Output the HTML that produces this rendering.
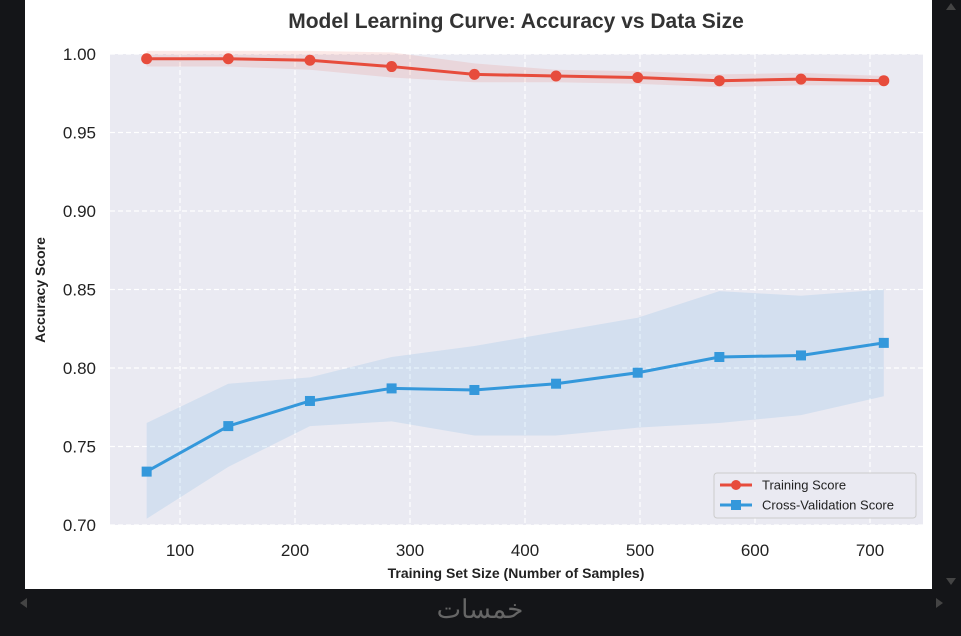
<!DOCTYPE html>
<html><head><meta charset="utf-8"><style>
body{margin:0;width:961px;height:636px;background:#141518;overflow:hidden;font-family:"Liberation Sans",sans-serif}
#card{position:absolute;left:25px;top:0;width:907px;height:589px;background:#fff}
svg{position:absolute;left:0;top:0}
</style></head><body>
<div id="card"></div>
<svg id="chart" width="961" height="636">
<text x="516" y="28" text-anchor="middle" font-size="21" font-weight="bold" fill="#333">Model Learning Curve: Accuracy vs Data Size</text>
<text transform="translate(45,290) rotate(-90)" text-anchor="middle" font-size="14" font-weight="bold" fill="#222">Accuracy Score</text>
<text x="516" y="578" text-anchor="middle" font-size="14" font-weight="bold" fill="#222">Training Set Size (Number of Samples)</text>
<text x="480" y="618" text-anchor="middle" font-size="26" fill="#666" font-family="'Liberation Sans','Noto Sans CJK SC',sans-serif">خمسات</text>
<polygon points="20,603 27,598 27,608" fill="#444"/>
<polygon points="936,598 936,608 943,603" fill="#444"/>
<polygon points="946,10 956,10 951,3" fill="#444"/>
<polygon points="946,578 956,578 951,585" fill="#444"/>
</svg>
<script>
const sizes=[71,142,213,284,356,427,498,569,640,712];
const trainMean=[0.997,0.997,0.996,0.992,0.987,0.986,0.985,0.983,0.984,0.983];
const trainUpper=[1.002,1.002,1.002,1.001,0.994,0.990,0.989,0.987,0.988,0.986];
const trainLower=[0.992,0.992,0.990,0.985,0.982,0.982,0.981,0.979,0.980,0.980];
const cvMean=[0.734,0.763,0.779,0.787,0.786,0.790,0.797,0.807,0.808,0.816];
const cvUpper=[0.765,0.790,0.794,0.807,0.814,0.823,0.832,0.849,0.846,0.850];
const cvLower=[0.704,0.737,0.763,0.766,0.757,0.757,0.762,0.765,0.770,0.782];
const xTicks=[100,200,300,400,500,600,700];
const yTicks=[0.70,0.75,0.80,0.85,0.90,0.95,1.00];
const L=110,R=923,T=54,B=525;
const xs=v=>180+(v-100)*(870-180)/600;
const ys=v=>B-(v-0.70)*(B-T)/0.30;
const svg=document.getElementById('chart');
const NS='http://www.w3.org/2000/svg';
function mk(t,a){const e=document.createElementNS(NS,t);for(const k in a)e.setAttribute(k,a[k]);svg.appendChild(e);return e;}
const bg=mk('rect',{x:L,y:T,width:R-L,height:B-T,fill:'#eaeaf2'});


xTicks.forEach(t=>{
 const g=mk('line',{x1:xs(t),x2:xs(t),y1:T,y2:B,stroke:'#fff','stroke-dasharray':'5,3','stroke-width':1.2});
 
 
 const l=mk('text',{x:xs(t),y:556,'text-anchor':'middle','font-size':17,fill:'#222'});l.textContent=t;
 
 
});
yTicks.forEach(t=>{
 const g=mk('line',{x1:L,x2:R,y1:ys(t),y2:ys(t),stroke:'#fff','stroke-dasharray':'5,3','stroke-width':1.2});
 
 
 const l=mk('text',{x:96,y:ys(t)+6,'text-anchor':'end','font-size':17,fill:'#222'});l.textContent=t.toFixed(2);
 
 
});
function band(up,lo,col,name){
 const pts=sizes.map((s,i)=>xs(s)+','+ys(up[i])).concat(sizes.map((s,i)=>xs(s)+','+ys(lo[i])).reverse());
 const p=mk('polygon',{points:pts.join(' '),fill:col,'fill-opacity':0.12});
 
 
}
band(trainUpper,trainLower,'#e74c3c','training-score-band');
band(cvUpper,cvLower,'#3498db','cv-score-band');
function series(m,col,sq,name){
 const l=mk('polyline',{points:sizes.map((s,i)=>xs(s)+','+ys(m[i])).join(' '),fill:'none',stroke:col,'stroke-width':3});
 
 
 sizes.forEach((s,i)=>{
  const e=sq?mk('rect',{x:xs(s)-5,y:ys(m[i])-5,width:10,height:10,fill:col}):mk('circle',{cx:xs(s),cy:ys(m[i]),r:5.5,fill:col});
  
  
 });
}
series(trainMean,'#e74c3c',false,'training-score');
series(cvMean,'#3498db',true,'cv-score');
const lg=mk('rect',{x:714,y:473,width:202,height:45,rx:3,fill:'#eaeaf2',stroke:'#ccc'});


[['Training Score','#e74c3c',false],['Cross-Validation Score','#3498db',true]].forEach((d,i)=>{
 const y=485+i*20;
 const ln=mk('line',{x1:720,x2:752,y1:y,y2:y,stroke:d[1],'stroke-width':3});
 
 
 const mkr=d[2]?mk('rect',{x:731,y:y-5,width:10,height:10,fill:d[1]}):mk('circle',{cx:736,cy:y,r:5,fill:d[1]});
 
 
 const t=mk('text',{x:762,y:y+4.5,'font-size':13,fill:'#222'});t.textContent=d[0];
 
 
});
</script>
</body></html>
